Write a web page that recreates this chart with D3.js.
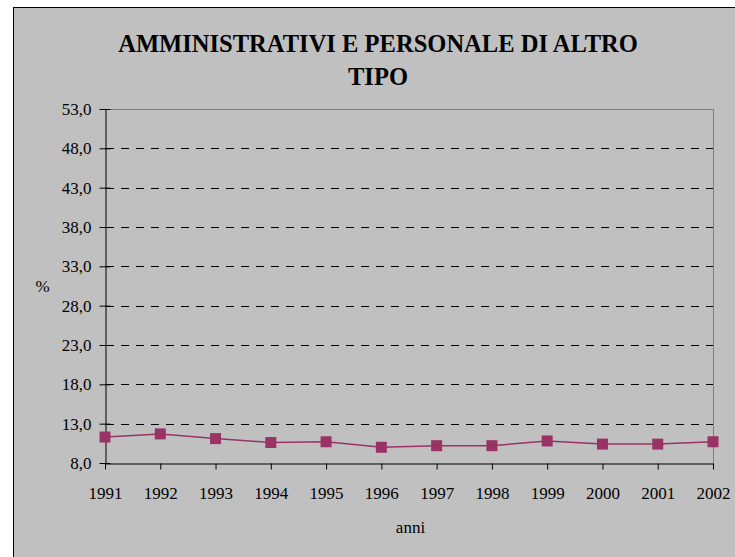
<!DOCTYPE html>
<html><head><meta charset="utf-8">
<script src="https://cdn.jsdelivr.net/npm/d3@7"></script>
<style>
body{margin:0;background:#fff}
svg{display:block}
svg text{font-family:"Liberation Serif",serif !important}
</style>
</head><body>
<script>
const years = ["1991","1992","1993","1994","1995","1996","1997","1998","1999","2000","2001","2002"];
const values = [11.3, 11.7, 11.1, 10.6, 10.7, 10.0, 10.2, 10.2, 10.8, 10.4, 10.4, 10.7];
const yTicks = [8, 13, 18, 23, 28, 33, 38, 43, 48, 53];
const titleLines = ["AMMINISTRATIVI E PERSONALE DI ALTRO", "TIPO"];

const FONT = "Liberation Serif";
const W = 735, H = 557;
const svg = d3.select("body").append("svg").attr("width", W).attr("height", H);
svg.append("rect").attr("x", 13.5).attr("y", 7.5).attr("width", W).attr("height", H)
  .attr("fill", "#c0c0c0").attr("stroke", "#000").attr("stroke-width", 1);

const L = 105, R = 713, T = 109, B = 463;
const x = d3.scalePoint().domain(years).range([L, R]);
const y = d3.scaleLinear().domain([8, 53]).range([B, T]);

// gridlines
svg.append("g").selectAll("line").data(yTicks.filter(d => d !== 8 && d !== 53)).join("line")
  .attr("x1", L).attr("x2", R).attr("y1", d => Math.round(y(d)) + 0.5).attr("y2", d => Math.round(y(d)) + 0.5)
  .attr("stroke", "#000").attr("stroke-dasharray", "8,7").attr("stroke-dashoffset", -1);
// plot border top/right
svg.append("path").attr("d", `M${L},${T + 0.5}H${R + 0.5}V${B}`).attr("fill", "none").attr("stroke", "#808080");

const fmt = d => d3.format(".1f")(d).replace(".", ",");
const yAxis = svg.append("g").attr("transform", `translate(${L + 0.5},0)`)
  .call(d3.axisLeft(y).tickValues(yTicks).tickFormat(fmt).tickSize(11).tickSizeOuter(0).tickPadding(3));
yAxis.attr("font-family", null);
yAxis.selectAll("line").attr("transform", "translate(5,0)");
const xAxis = svg.append("g").attr("transform", `translate(0,${B + 0.5})`)
  .call(d3.axisBottom(x).tickSize(6).tickSizeOuter(0).tickPadding(17));
xAxis.attr("font-family", null);
svg.selectAll(".domain").attr("stroke", "#000");
svg.selectAll(".tick text").attr("fill", "#000").style("font-family", FONT).style("font-size", "17px");

// line + markers
svg.append("path").datum(values).attr("fill", "none").attr("stroke", "#993366").attr("stroke-width", 1.5)
  .attr("d", d3.line().x((d, i) => x(years[i])).y(d => y(d)));
svg.append("g").selectAll("rect").data(values).join("rect")
  .attr("x", (d, i) => x(years[i]) - 5.5).attr("y", d => y(d) - 5.5).attr("width", 11).attr("height", 11)
  .attr("fill", "#993366");

// titles
const tt = svg.append("g").selectAll("text").data(titleLines).join("text")
  .attr("x", 378).attr("y", (d, i) => 52 + i * 33).attr("text-anchor", "middle")
  .style("font-family", FONT).style("font-size", "26px").attr("font-weight", "bold").attr("fill", "#000").text(d => d);
const w0 = tt.node().getComputedTextLength();
if (w0 > 0) { const fs = Math.min(26, 26 * 520 / w0); tt.style("font-size", fs + "px"); }
svg.append("text").attr("x", 42.5).attr("y", 292).attr("text-anchor", "middle")
  .style("font-family", FONT).style("font-size", "17px").text("%");
svg.append("text").attr("x", 410.5).attr("y", 533).attr("text-anchor", "middle")
  .style("font-family", FONT).style("font-size", "17px").text("anni");
</script>
</body></html>
